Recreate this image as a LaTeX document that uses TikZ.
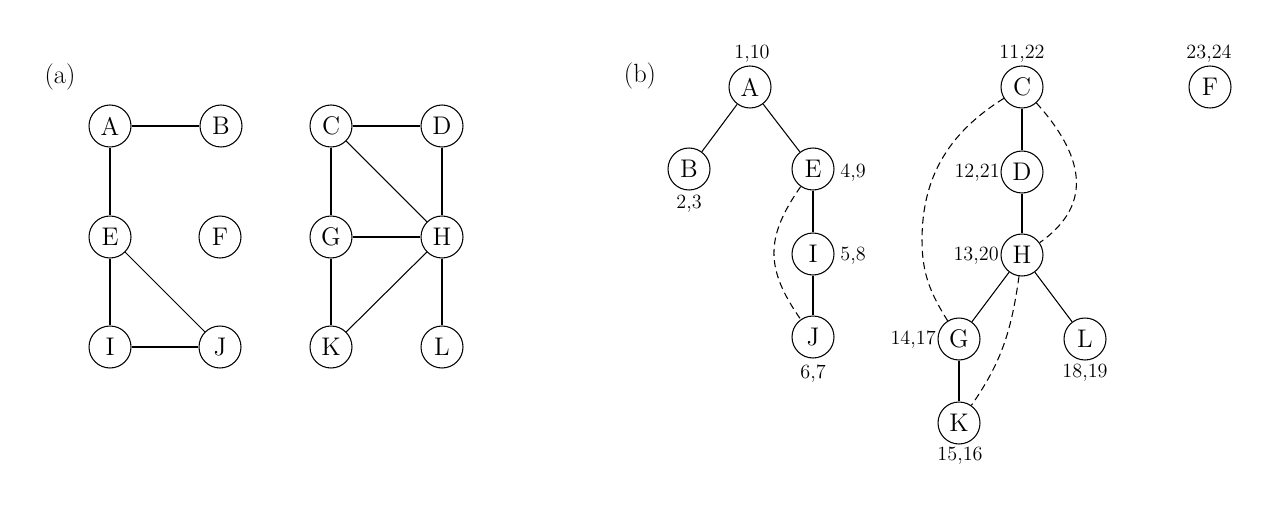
\documentclass[tikz,border=0pt]{standalone}
\begin{document}
\begin{tikzpicture}[x=0.02cm,y=0.02cm,
  v/.style={circle,draw,line width=0.6pt,minimum size=0.84cm,inner sep=0pt,font=\fontsize{14.5}{16}\selectfont},
  lbl/.style={inner sep=0pt,font=\fontsize{11.5}{13}\selectfont},
  captext/.style={inner sep=0pt,font=\fontsize{15}{17}\selectfont},
  e/.style={line width=0.6pt},
  back/.style={line width=0.6pt,dash pattern=on 4pt off 2.5pt}]
\useasboundingbox (0,0) rectangle (1266,-520);
% ---------- (a) ----------
\node[captext] (capa) at (60,-77) {(a)};
\node[v] (aA) at (110,-126) {A};
\node[v] (aB) at (221,-126) {B};
\node[v] (aE) at (110,-237) {E};
\node[v] (aF) at (220,-237) {F};
\node[v] (aI) at (110,-347) {I};
\node[v] (aJ) at (220,-347) {J};
\node[v] (aC) at (331,-126) {C};
\node[v] (aD) at (442,-126) {D};
\node[v] (aG) at (331,-237) {G};
\node[v] (aH) at (442,-237) {H};
\node[v] (aK) at (331,-347) {K};
\node[v] (aL) at (442,-347) {L};
\draw[e] (aA) -- (aB);
\draw[e] (aA) -- (aE);
\draw[e] (aE) -- (aI);
\draw[e] (aE) -- (aJ);
\draw[e] (aI) -- (aJ);
\draw[e] (aC) -- (aD);
\draw[e] (aC) -- (aG);
\draw[e] (aC) -- (aH);
\draw[e] (aD) -- (aH);
\draw[e] (aG) -- (aH);
\draw[e] (aG) -- (aK);
\draw[e] (aH) -- (aK);
\draw[e] (aH) -- (aL);
% ---------- (b) ----------
\node[captext] (capb) at (640,-76) {(b)};
\node[v] (A) at (750,-87) {A};
\node[v] (B) at (689,-169) {B};
\node[v] (E) at (813,-169) {E};
\node[v] (I) at (813,-254) {I};
\node[v] (J) at (813,-337) {J};
\node[v] (C) at (1022,-87) {C};
\node[v] (D) at (1022,-172) {D};
\node[v] (H) at (1022,-255) {H};
\node[v] (G) at (959,-339) {G};
\node[v] (L) at (1085,-339) {L};
\node[v] (K) at (959,-423) {K};
\node[v] (F) at (1210,-87) {F};
\node[lbl] (lA) at (752,-54) {1,10};
\node[lbl] (lB) at (689,-204) {2,3};
\node[lbl] (lE) at (853,-173) {4,9};
\node[lbl] (lI) at (853,-256) {5,8};
\node[lbl] (lJ) at (813,-374) {6,7};
\node[lbl] (lC) at (1022,-54) {11,22};
\node[lbl] (lF) at (1209,-54) {23,24};
\node[lbl,anchor=east] (lD) at (1000,-173) {12,21};
\node[lbl,anchor=east] (lH) at (999,-256) {13,20};
\node[lbl,anchor=east] (lG) at (936,-340) {14,17};
\node[lbl] (lL) at (1085,-373) {18,19};
\node[lbl] (lK) at (960,-456) {15,16};
\draw[e] (A) -- (B);
\draw[e] (A) -- (E);
\draw[e] (E) -- (I);
\draw[e] (I) -- (J);
\draw[e] (C) -- (D);
\draw[e] (D) -- (H);
\draw[e] (H) -- (G);
\draw[e] (H) -- (L);
\draw[e] (G) -- (K);
\draw[back] (E) to[out=235,in=125,looseness=1.2] (J);
\coordinate (cg) at (922,-240);
\draw[back] (C) to[out=212,in=90] (cg) to[out=-90,in=122] (G);
\draw[back] (C) to[out=-48,in=35,looseness=1.25] (H);
\draw[back] (H) to[out=262,in=55] (K);
\end{tikzpicture}
\end{document}
